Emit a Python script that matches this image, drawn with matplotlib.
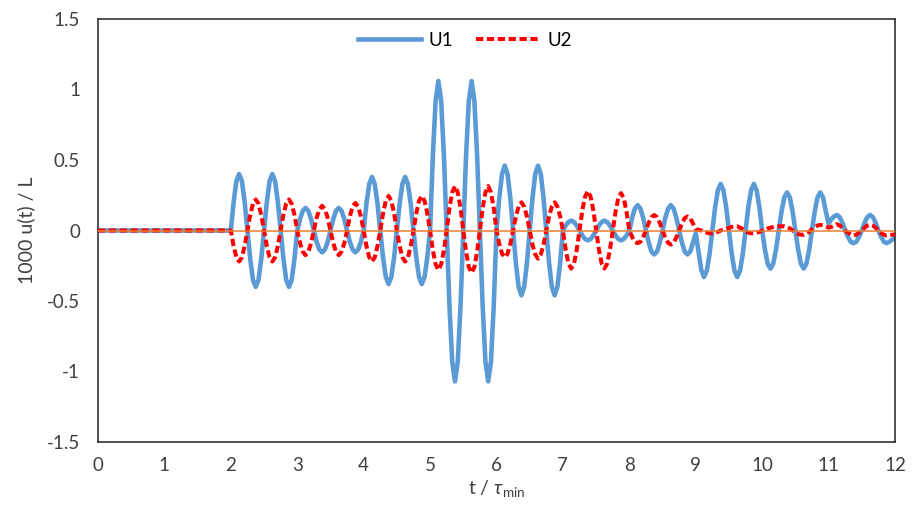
import numpy as np
from matplotlib import pyplot as plt
from matplotlib.ticker import FuncFormatter

plt.rcParams['font.family'] = ['Lato', 'DejaVu Sans']
plt.rcParams['axes.unicode_minus'] = False
plt.rcParams['mathtext.fontset'] = 'custom'
plt.rcParams['mathtext.rm'] = 'Lato'
plt.rcParams['mathtext.it'] = 'Lato:italic'

# время: ровная часть 0..2, далее сетка с шагом 1/24 (6 точек на полупериод)
t_flat = [0.0, 2.0]
t_wave = np.linspace(2.0, 12.0, 241)

# U1, значения, одна строка = полупериод 0.25
u1_flat = [0.0, 0.0]
u1_wave = [
    0, 0.20, 0.35, 0.40, 0.35, 0.20,
    0, -0.20, -0.35, -0.40, -0.35, -0.20,
    0, 0.20, 0.35, 0.40, 0.35, 0.20,
    0, -0.20, -0.35, -0.40, -0.35, -0.20,
    0, 0.08, 0.14, 0.16, 0.14, 0.08,
    0, -0.08, -0.135, -0.155, -0.135, -0.08,
    0, 0.08, 0.14, 0.16, 0.14, 0.08,
    0, -0.08, -0.135, -0.155, -0.135, -0.08,
    0, 0.19, 0.33, 0.38, 0.33, 0.19,
    0, -0.19, -0.33, -0.38, -0.33, -0.19,
    0, 0.19, 0.33, 0.38, 0.33, 0.19,
    0, -0.19, -0.33, -0.38, -0.33, -0.19,
    0, 0.53, 0.92, 1.06, 0.92, 0.53,
    0, -0.535, -0.93, -1.07, -0.93, -0.535,
    0, 0.53, 0.92, 1.06, 0.92, 0.53,
    0, -0.535, -0.93, -1.07, -0.93, -0.535,
    0, 0.23, 0.40, 0.46, 0.40, 0.23,
    0, -0.23, -0.40, -0.46, -0.40, -0.23,
    0, 0.23, 0.40, 0.46, 0.40, 0.23,
    0, -0.23, -0.40, -0.46, -0.40, -0.23,
    0, 0.035, 0.06, 0.07, 0.06, 0.035,
    0, -0.035, -0.06, -0.07, -0.06, -0.035,
    0, 0.035, 0.06, 0.07, 0.06, 0.035,
    0, -0.035, -0.06, -0.07, -0.06, -0.035,
    0, 0.09, 0.155, 0.18, 0.155, 0.09,
    0, -0.085, -0.15, -0.17, -0.15, -0.085,
    0, 0.09, 0.155, 0.18, 0.155, 0.09,
    0, -0.085, -0.15, -0.17, -0.15, -0.085,
    -0.02, -0.15, -0.28, -0.33, -0.285, -0.165,
    0, 0.165, 0.285, 0.33, 0.285, 0.165,
    0, -0.165, -0.285, -0.33, -0.285, -0.165,
    0, 0.165, 0.285, 0.33, 0.285, 0.165,
    0, -0.135, -0.235, -0.27, -0.235, -0.135,
    0, 0.135, 0.235, 0.27, 0.235, 0.135,
    0, -0.135, -0.235, -0.27, -0.235, -0.135,
    0, 0.135, 0.235, 0.27, 0.235, 0.135,
    0.05, 0.08, 0.10, 0.11, 0.095, 0.055,
    0, -0.045, -0.08, -0.09, -0.08, -0.045,
    0, 0.055, 0.095, 0.11, 0.095, 0.055,
    0, -0.045, -0.08, -0.09, -0.08, -0.065,
    -0.05,
]

# U2
u2_flat = [0.0, 0.0]
u2_wave = [
    0, -0.11, -0.19, -0.22, -0.19, -0.11,
    0, 0.11, 0.19, 0.22, 0.19, 0.11,
    0, -0.11, -0.19, -0.22, -0.19, -0.11,
    0, 0.11, 0.19, 0.22, 0.19, 0.11,
    0, -0.09, -0.15, -0.175, -0.15, -0.09,
    0, 0.09, 0.15, 0.175, 0.15, 0.09,
    0, -0.09, -0.15, -0.175, -0.15, -0.09,
    0, 0.10, 0.17, 0.195, 0.17, 0.10,
    0, -0.11, -0.19, -0.22, -0.19, -0.11,
    0, 0.12, 0.21, 0.245, 0.21, 0.12,
    0, -0.11, -0.19, -0.22, -0.19, -0.11,
    0, 0.12, 0.21, 0.245, 0.21, 0.12,
    0, -0.14, -0.24, -0.28, -0.24, -0.14,
    0, 0.16, 0.27, 0.315, 0.27, 0.16,
    0, -0.15, -0.26, -0.30, -0.26, -0.15,
    0, 0.16, 0.27, 0.315, 0.27, 0.16,
    0, -0.095, -0.165, -0.19, -0.165, -0.095,
    0, 0.10, 0.17, 0.20, 0.17, 0.10,
    0, -0.10, -0.17, -0.20, -0.17, -0.10,
    0, 0.10, 0.17, 0.20, 0.17, 0.10,
    0, -0.135, -0.235, -0.27, -0.235, -0.135,
    0, 0.14, 0.24, 0.28, 0.24, 0.14,
    0, -0.135, -0.235, -0.27, -0.235, -0.135,
    0, 0.13, 0.23, 0.265, 0.23, 0.13,
    0, -0.045, -0.08, -0.09, -0.08, -0.045,
    0, 0.055, 0.095, 0.11, 0.095, 0.055,
    0, -0.05, -0.087, -0.10, -0.087, -0.05,
    0, 0.05, 0.087, 0.10, 0.087, 0.05,
    0.01, 0.005, 0.0, -0.01, -0.015, -0.02,
    -0.02, -0.015, -0.01, 0.0, 0.005, 0.01,
    0.02, 0.025, 0.03, 0.03, 0.02, 0.01,
    -0.005, -0.015, -0.02, -0.02, -0.015, -0.01,
    0.0, 0.005, 0.015, 0.02, 0.025, 0.03,
    0.03, 0.03, 0.03, 0.025, 0.015, 0.0,
    -0.015, -0.025, -0.03, -0.03, -0.02, -0.01,
    0.01, 0.025, 0.035, 0.04, 0.035, 0.03,
    0.02, 0.025, 0.035, 0.045, 0.035, 0.02,
    0.0, -0.015, -0.03, -0.035, -0.03, -0.015,
    0.0, 0.02, 0.035, 0.04, 0.035, 0.02,
    0.0, -0.02, -0.03, -0.035, -0.03, -0.03,
    -0.03,
]

t = np.concatenate([t_flat[:-1], t_wave])
u1 = np.concatenate([u1_flat[:-1], u1_wave])
u2 = np.concatenate([u2_flat[:-1], u2_wave])

x_ticks = list(range(0, 13))
y_ticks = [-1.5, -1, -0.5, 0, 0.5, 1, 1.5]

fig = plt.figure(figsize=(9.22, 5.2), dpi=100)
ax = fig.add_axes([98 / 922, 78 / 520, 797 / 922, 423 / 520])

ax.plot(t, u1, color='#5B9BD5', lw=3.3, label='U1', solid_joinstyle='round', zorder=2)
ax.plot(t, u2, color='#FF0000', lw=2.9, ls=(0, (1.8, 0.9)), label='U2', zorder=3)
ax.axhline(0, color='#ED7D31', lw=1.1, zorder=4)

ax.set_xlim(0, 12)
ax.set_ylim(-1.5, 1.5)
ax.set_xticks(x_ticks)
ax.set_yticks(y_ticks)
ax.yaxis.set_major_formatter(FuncFormatter(lambda v, p: '{:g}'.format(v)))
ax.tick_params(axis='both', length=0, labelsize=13.5, colors='#404040')
ax.tick_params(axis='x', pad=11)
ax.tick_params(axis='y', pad=13)
for s in ax.spines.values():
    s.set_linewidth(1.1)
    s.set_color('#202020')

ax.set_xlabel(r't / $\tau_{\rm min}$', fontsize=14, color='#404040', labelpad=3)
ax.set_ylabel('1000 u(t) / L', fontsize=14, color='#404040', labelpad=8)

ax.legend(loc='upper center', bbox_to_anchor=(0.46, 1.01), ncol=2, frameon=False,
          fontsize=13.5, handlelength=3.4, columnspacing=1.2, handletextpad=0.4)

fig.savefig('out.png', dpi=100)
